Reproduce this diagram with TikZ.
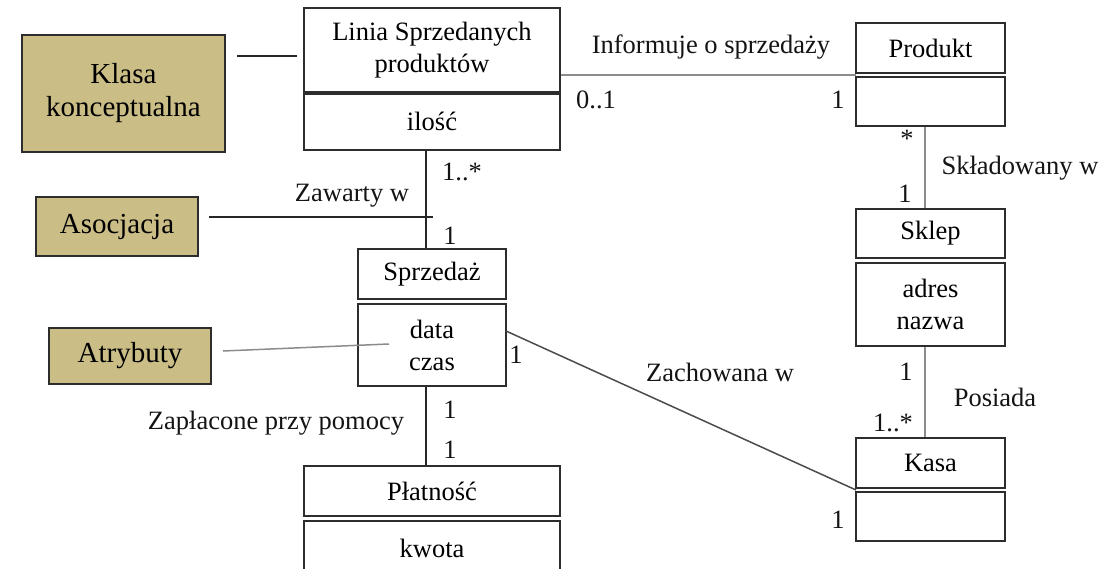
\documentclass[tikz,border=0pt]{standalone}
\usepackage{fontspec}
\setmainfont{Liberation Serif}
\definecolor{tanc}{RGB}{202,189,134}
\definecolor{edge}{RGB}{45,45,45}
\begin{document}
\begin{tikzpicture}[x=1pt,y=-1pt,
  cls/.style={draw=edge, line width=1.8pt, fill=white, rectangle, inner sep=0pt, align=center, font=\fontsize{26.5}{32}\selectfont},
  tag/.style={draw=edge, line width=1.8pt, fill=tanc, rectangle, inner sep=0pt, align=center, font=\fontsize{29}{33}\selectfont},
  lbl/.style={inner sep=0pt, font=\fontsize{26.5}{32}\selectfont, text=black!92},
  assoc/.style={line width=1.5pt, draw=black!85},
  gassoc/.style={line width=1.5pt, draw=black!45},
]
\clip (0,0) rectangle (1116,569);
\fill[white] (0,0) rectangle (1116,569);

% annotation boxes
\node[tag, minimum width=203pt, minimum height=117pt] (klasa) at (123.5,93.5) {Klasa\\konceptualna};
\node[tag, minimum width=162pt, minimum height=59pt] (asoc) at (117,226.5) {Asocjacja};
\node[tag, minimum width=162pt, minimum height=56pt] (atr) at (130,356) {Atrybuty};

% classes
\node[cls, minimum width=256pt, minimum height=84pt] (lintop) at (432,50) {Linia Sprzedanych\\produktów};
\node[cls, minimum width=256pt, minimum height=58pt] (linbot) at (432,121) {ilość};
\draw[edge, line width=3.5pt] (lintop.south west) -- (lintop.south east);

\node[cls, minimum width=149pt, minimum height=50pt] (prodtop) at (930.5,48) {Produkt};
\node[cls, minimum width=149pt, minimum height=49pt] (prodbot) at (930.5,101.5) {};

\node[cls, minimum width=149pt, minimum height=49pt] (skltop) at (930.5,233.5) {Sklep};
\node[cls, minimum width=149pt, minimum height=83pt] (sklbot) at (930.5,304.5) {adres\\nazwa};

\node[cls, minimum width=149pt, minimum height=50pt] (kastop) at (930.5,463) {Kasa};
\node[cls, minimum width=149pt, minimum height=49pt] (kasbot) at (930.5,516.5) {};

\node[cls, minimum width=148pt, minimum height=50pt] (sprtop) at (432,274) {Sprzedaż};
\node[cls, minimum width=148pt, minimum height=82pt] (sprbot) at (432,345) {data\\czas};

\node[cls, minimum width=256pt, minimum height=50pt] (plattop) at (432,491) {Płatność};
\node[cls, minimum width=256pt, minimum height=54pt] (platbot) at (432,548) {kwota};

% connector end points
\coordinate (k1) at (237,56);
\coordinate (k2) at (297,56);
\coordinate (a1) at (209,217);
\coordinate (a2) at (433,217);
\coordinate (t1) at (223,351);
\coordinate (t2) at (389,344);
\coordinate (pgap) at (856,75);
\coordinate (kgap) at (856,490);
\coordinate (sz) at (506,331);

% connectors
\draw[assoc] (k1) -- (k2);
\draw[assoc] (a1) -- (a2);
\draw[gassoc] (t1) -- (t2);
\draw[gassoc] (lintop.east |- pgap) -- (pgap);
\draw[assoc] ([xshift=-6pt]linbot.south) -- ([xshift=-6pt]sprtop.north);
\draw[assoc] ([xshift=-6pt]sprbot.south) -- ([xshift=-6pt]plattop.north);
\draw[assoc, draw=black!70] (sz) -- (kgap);
\draw[gassoc] ([xshift=-5.5pt]prodbot.south) -- ([xshift=-5.5pt]skltop.north);
\draw[gassoc] ([xshift=-5.5pt]sklbot.south) -- ([xshift=-5.5pt]kastop.north);

% labels
\node[lbl] (l1) at (711,47) {Informuje o sprzedaży};
\node[lbl] (l2) at (596,100) {0..1};
\node[lbl] (l3) at (838,100) {1};
\node[lbl] (l4) at (462,172) {1..*};
\node[lbl] (l5) at (352,196) {Zawarty w};
\node[lbl] (l6) at (450,236) {1};
\node[lbl] (l7) at (516,355) {1};
\node[lbl] (l8) at (720,372) {Zachowana w};
\node[lbl] (l9) at (450,410) {1};
\node[lbl] (l10) at (450,450) {1};
\node[lbl] (l11) at (276,423) {Zapłacone przy pomocy};
\node[lbl] (l12) at (907,139) {*};
\node[lbl] (l13) at (905,194) {1};
\node[lbl] (l14) at (1020,168) {Składowany w};
\node[lbl] (l15) at (906,372) {1};
\node[lbl] (l16) at (995,397) {Posiada};
\node[lbl] (l17) at (893,423) {1..*};
\node[lbl] (l18) at (838,520) {1};
\end{tikzpicture}
\end{document}
